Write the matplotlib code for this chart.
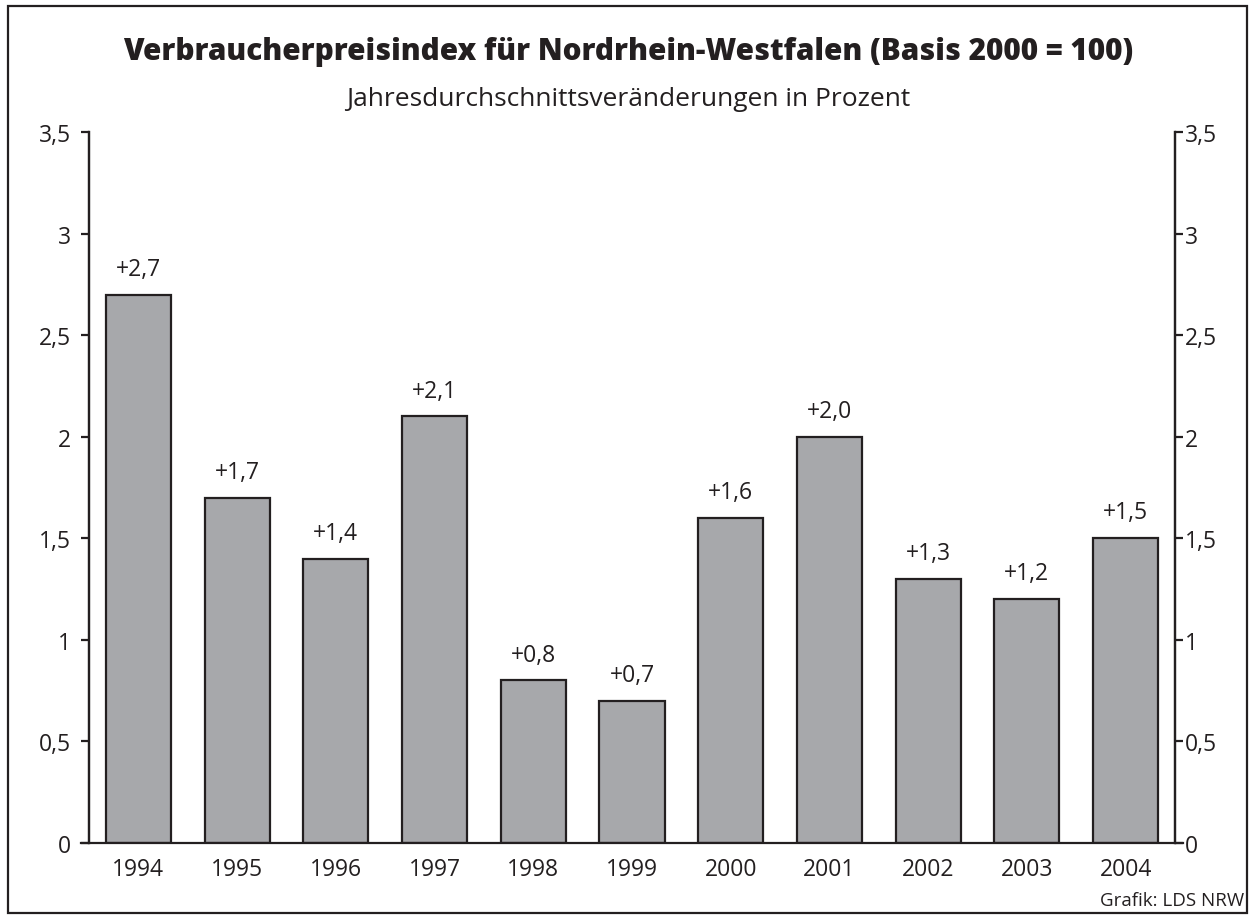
import numpy as np
import matplotlib.pyplot as plt
from matplotlib.patches import Rectangle

years = ['1994', '1995', '1996', '1997', '1998', '1999', '2000', '2001', '2002', '2003', '2004']
values = [2.7, 1.7, 1.4, 2.1, 0.8, 0.7, 1.6, 2.0, 1.3, 1.2, 1.5]
yticks = [0, 0.5, 1, 1.5, 2, 2.5, 3, 3.5]
ytick_labels = ['0', '0,5', '1', '1,5', '2', '2,5', '3', '3,5']

plt.rcParams['font.family'] = ['Open Sans', 'DejaVu Sans']
ink = '#231f20'

fig = plt.figure(figsize=(12.55, 9.2), dpi=100)
ax = fig.add_axes([89 / 1255, 1 - 844 / 920, (1175 - 89) / 1255, (844 - 133) / 920])

x = np.arange(len(years))
ax.bar(x, values, width=0.66, color='#a7a8ab', edgecolor=ink, linewidth=1.6)

for xi, v in zip(x, values):
    ax.annotate('+' + f'{v:.1f}'.replace('.', ','), (xi, v), xytext=(0, 10),
                textcoords='offset points', ha='center', va='bottom', fontsize=16.5, color=ink)

ax.set_xlim(-0.5, len(years) - 0.5)
ax.set_ylim(0, 3.5)
ax.set_xticks(x)
ax.set_xticklabels(years, fontsize=16.5, color=ink)
ax.tick_params(axis='x', length=0, pad=10)
ax.set_yticks(yticks)
ax.set_yticklabels(ytick_labels, fontsize=16.5, color=ink)
ax.tick_params(axis='y', length=6, width=1.6, color=ink, pad=7)

ax2 = ax.twinx()
ax2.set_ylim(0, 3.5)
ax2.set_yticks(yticks)
ax2.set_yticklabels(ytick_labels, fontsize=16.5, color=ink)
ax2.tick_params(axis='y', length=6, width=1.6, color=ink, pad=1)

for a in (ax, ax2):
    a.spines['top'].set_visible(False)
    for s in ['left', 'right', 'bottom']:
        a.spines[s].set_linewidth(1.6)
        a.spines[s].set_color(ink)
ax.spines['bottom'].set_bounds(-0.5 - 0.08, len(years) - 0.5 + 0.08)
ax2.spines['bottom'].set_visible(False)

fig.text(628 / 1255, 1 - 52 / 920, 'Verbraucherpreisindex für Nordrhein-Westfalen (Basis 2000 = 100)',
         ha='center', va='center', fontsize=21.4, fontweight='heavy', color=ink)
fig.text(628 / 1255, 1 - 100 / 920, 'Jahresdurchschnittsveränderungen in Prozent',
         ha='center', va='center', fontsize=19, color=ink)
fig.text(1244 / 1255, 1 - 901 / 920, 'Grafik: LDS NRW', ha='right', va='center', fontsize=13.5, color=ink)

fig.patches.append(Rectangle((8 / 1255, 6 / 920), 1239 / 1255, 907 / 920, transform=fig.transFigure,
                             fill=False, edgecolor=ink, linewidth=1.6))

fig.savefig('out.png', dpi=100)
